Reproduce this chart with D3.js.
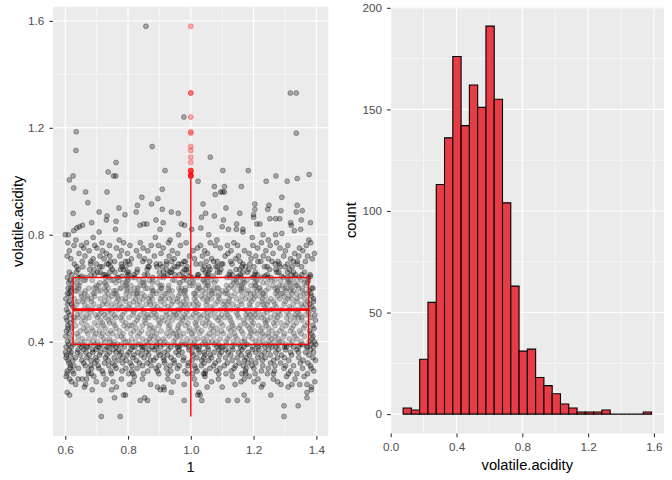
<!DOCTYPE html>
<html lang="en">
<head>
<meta charset="UTF-8">
<title>volatile.acidity</title>
<script src="https://cdn.jsdelivr.net/npm/d3@7"></script>
<style>
	html,body{margin:0;padding:0;background:#fff;}
	svg{display:block;}
	.grid-major{stroke:#fff;stroke-width:1.1;}
	.grid-minor{stroke:#fff;stroke-width:0.55;}
	.axis-title{fill:#000;font-size:14.7px;font-family:"Liberation Sans",Arial,sans-serif;}
</style>
</head>
<body>
<svg id="svg" width="672" height="480"></svg>
<script>
// jittered points: [volatile.acidity, [jittered x positions]]
const jitterRows = [
[0.12,[.715,.775,1.297]],
[0.16,[1.297,1.342]],
[0.18,[.711,.839,.862,.979,1.035,1.119,1.148,1.18]],
[0.19,[.757,.853,1.37]],
[0.2,[.786,1.03,1.17,.792,1.022,.614,1.255]],
[0.21,[.606,.938,1.026,1.37]],
[0.22,[.686,.748,.903,.915,1.384]],
[0.23,[.894,.914,1.1,1.225,1.384,.763,.661,1.052,1.31]],
[0.24,[.665,.722,.979,1.017,1.23,1.287,1.322,1.347,1.37,.805,.872,1.141,.633]],
[0.25,[.817,.699,1.16,.752,.944,1.066,1.201,1.276,.62,1.395]],
[0.26,[.614,.641,.654,.668,1.17,.73,.779,.846,.927,1.011,1.088,1.214,1.263,1.332]],
[0.27,[.603,.691,.82,.958,1.045,1.132,1.186,1.305,1.361]],
[0.28,[.606,.627,.674,.683,.721,.747,.802,.816,.849,.898,.927,.989,1.006,1.041,1.045,1.089,1.112,1.163,1.175,1.205,1.244,1.263,1.311,1.338,1.372]],
[0.29,[.718,1.047,.623,1.266,.894,1.129,.673,.981,1.392,.812,1.174,.745,1.318,.936,.606,1.082,.863,1.225,.781,1.02]],
[0.3,[.957,.642,1.201,.829,1.356,.707,1.093,.615,.889,1.247,.762,1.138,1.015,.684,1.297,.922,1.176,.793,1.061,1.384]],
[0.31,[.627,.873,1.142,.705,1.268,.991,.758,1.327,.846,1.034,.617,1.195,.934,1.381,.681,1.107,.812,1.229,.963,1.073,.739,1.302,.898,1.167,.664,1.012]],
[0.32,[1.254,.783,.612,1.116,.948,1.349,.725,1.042,.861,1.207,.659,.992,1.286,.807,1.154,.694,1.078,.917,1.373,.752,1.181,.836]],
[0.33,[.701,1.035,.882,1.312,.624,1.171,.946,.768,1.228,1.089,.653,1.397,.827,1.004,.737,1.264,.915,1.132,.609,1.358,.794,1.057,.871,1.193,.682,.976]],
[0.34,[1.148,.632,.913,1.276,.756,1.019,.851,1.344,.697,1.111,.978,.603,1.237,.815,1.066,.728,1.389,.937,1.176,.669,1.298,.889,1.041,.783,1.213]],
[0.35,[.617,.842,1.092,1.321,.709,.961,1.187,.774,1.045,.648,1.253,.902,1.376,.733,1.127,.819,1.008,.676,1.289,.926,1.161,.797,1.062,.604,1.224,.866]],
[0.36,[.953,.688,1.119,.831,1.366,.619,1.043,.762,1.271,.897,1.182,.713,1.004,.639,1.318,.858,1.097,.741,1.235,.972,1.152,.803,1.391,.666,1.027,.915,1.207,.779,1.343,.601,1.074]],
[0.37,[.726,1.163,.884,1.302,.641,1.025,.809,1.248,.962,.687,1.381,1.089,.753,1.196,.928,.613,1.134,.846,1.279,.771,1.056,.994,1.338,.698,1.217,.867,1.112,.658]],
[0.38,[.603,.619,.652,.668,.671,.704,.733,.739,.762,.788,.815,.822,.851,.877,.889,.904,.936,.958,.963,.994,1.011,1.027,1.054,1.083,1.097,1.102,1.131,1.158,1.169,1.197,1.214,1.236,1.259,1.271,1.298,1.305,1.327,1.344,1.369,1.372,1.391,.845,1.018,.709]],
[0.39,[.611,.626,.644,.681,.697,.715,.748,.753,.779,.806,.834,.841,.862,.893,.912,.927,.949,.981,.986,1.009,1.036,1.048,1.075,1.089,1.114,1.138,1.152,1.177,1.181,1.209,1.242,1.253,1.278,1.302,1.318,1.349,1.356,1.383,1.398,.767,.968,1.225,.655]],
[0.4,[.607,.638,.661,.689,.702,.727,.756,.791,.799,.824,.858,.871,.902,.917,.945,.972,.999,1.013,1.044,1.067,1.081,1.112,1.135,1.163,1.171,1.206,1.229,1.248,1.283,1.291,1.324,1.352,1.377,1.394,.742,.889,1.056,1.265]],
[0.41,[.618,.654,.676,.723,.741,.785,.812,.847,.896,.913,.952,.988,1.021,1.039,1.094,1.117,1.148,1.196,1.218,1.257,1.279,1.314,1.338,1.386,.868,1.171]],
[0.42,[.602,.641,.693,.714,.766,.779,.831,.874,.883,.931,.967,1.006,1.052,1.071,1.123,1.142,1.187,1.233,1.249,1.296,1.331,1.362,1.389,.957,1.268]],
[0.43,[.613,.637,.672,.698,.736,.751,.784,.809,.836,.864,.891,.923,.944,.977,1.003,1.028,1.059,1.086,1.104,1.139,1.166,1.192,1.211,1.246,1.273,1.299,1.328,1.351,1.384,.719,.953,1.228]],
[0.44,[.604,.648,.667,.709,.745,.773,.818,.843,.879,.905,.938,.962,1.011,1.035,1.072,1.098,1.127,1.161,1.203,1.222,1.259,1.284,1.317,1.346,1.378,.688,.994,1.191]],
[0.45,[.621,.659,.684,.727,.762,.797,.826,.868,.884,.929,.958,.996,1.023,1.064,1.083,1.121,1.154,1.186,1.227,1.248,1.291,1.322,1.359,1.393,.609,1.138]],
[0.46,[.608,.633,.669,.704,.721,.758,.787,.805,.846,.871,.899,.933,.961,.983,1.017,1.046,1.069,1.102,1.133,1.158,1.179,1.216,1.241,1.268,1.303,1.327,1.364,1.389,.812,1.195]],
[0.47,[.616,.652,.694,.718,.754,.793,.821,.857,.902,.926,.968,.991,1.037,1.058,1.096,1.131,1.172,1.199,1.238,1.264,1.307,1.336,1.372,.741,1.014,1.287]],
[0.48,[.627,.663,.712,.738,.781,.829,.853,.897,.941,.973,1.019,1.051,1.087,1.126,1.168,1.193,1.236,1.271,1.318,1.354,1.397,.606,.915,1.244]],
[0.49,[.603,.628,.657,.676,.703,.729,.761,.777,.803,.832,.855,.887,.908,.931,.957,.985,1.002,1.031,1.053,1.079,1.108,1.124,1.153,1.181,1.197,1.226,1.254,1.276,1.305,1.331,1.353,1.381,.641,.746,.866,.974,1.091,1.213,1.342]],
[0.5,[.615,.639,.668,.697,.724,.758,.782,.816,.839,.873,.891,.924,.952,.979,1.008,1.042,1.063,1.097,1.118,1.149,1.176,1.204,1.232,1.267,1.284,1.313,1.347,1.366,1.395,.707,.861,1.026,1.188,1.332,.944]],
[0.51,[.609,.648,.681,.716,.749,.788,.818,.852,.883,.921,.946,.987,1.016,1.054,1.077,1.113,1.145,1.182,1.216,1.243,1.279,1.306,1.341,1.376,.735,.962,1.198]],
[0.52,[.604,.632,.659,.687,.711,.743,.769,.796,.824,.847,.876,.905,.933,.958,.991,1.013,1.047,1.069,1.094,1.128,1.151,1.173,1.207,1.238,1.261,1.289,1.316,1.343,1.371,1.392,.672,.811,.968,1.112,1.253,.887,1.331]],
[0.53,[.624,.673,.708,.759,.801,.842,.894,.927,.976,1.022,1.063,1.109,1.147,1.189,1.235,1.272,1.314,1.357,1.386,.781]],
[0.54,[.607,.636,.662,.691,.719,.748,.774,.806,.829,.858,.884,.916,.939,.967,.995,1.024,1.049,1.078,1.103,1.134,1.162,1.187,1.214,1.243,1.268,1.297,1.326,1.352,1.379,.621,.733,.871,.982,1.118,1.231,1.365,1.008]],
[0.55,[.613,.656,.683,.726,.764,.793,.837,.869,.904,.943,.976,1.017,1.052,1.086,1.121,1.158,1.193,1.227,1.264,1.301,1.338,1.372,.641,.817,.958,1.107,1.246,1.391]],
[0.56,[.602,.629,.657,.684,.712,.739,.768,.792,.823,.848,.877,.903,.931,.957,.986,1.011,1.039,1.067,1.091,1.122,1.146,1.174,1.201,1.229,1.255,1.283,1.309,1.338,1.363,1.391,.671,.781,.918,1.053,1.188,1.322,.866]],
[0.57,[.618,.652,.694,.727,.766,.804,.831,.872,.908,.941,.983,1.016,1.058,1.088,1.129,1.163,1.204,1.237,1.276,1.312,1.349,1.384,.671,.853,1.034,1.219,.749,.961,1.297]],
[0.58,[.607,.612,.65,.662,.689,.692,.736,.755,.763,.794,.816,.827,.829,.845,.88,.891,.917,.924,.966,.98,1.009,1.013,1.046,1.067,1.076,1.093,1.111,1.117,1.141,1.178,1.191,1.201,1.229,1.231,1.27,1.287,1.293,1.323,1.338,1.361,1.37,1.382]],
[0.59,[.618,.632,.635,.664,.705,.713,.73,.755,.761,.797,.808,.83,.877,.881,.9,.931,.94,.967,.98,.982,1.02,1.036,1.06,1.067,1.1,1.112,1.157,1.162,1.183,1.211,1.221,1.239,1.274,1.277,1.303,1.318,1.326,1.356,1.376]],
[0.6,[.609,.618,.64,.644,.675,.691,.698,.725,.737,.775,.778,.796,.821,.831,.855,.861,.876,.905,.907,.928,.962,.97,.983,1.023,1.028,1.047,1.073,1.084,1.087,1.12,1.137,1.161,1.168,1.204,1.218,1.22,1.248,1.268,1.277,1.298,1.304,1.32,1.343,1.355,1.385,1.389]],
[0.61,[.625,.643,.699,.706,.731,.792,.795,.809,.838,.849,.902,.908,.93,.997,1.006,1.025,1.052,1.056,1.114,1.129,1.153,1.161,1.192,1.205,1.207,1.262,1.282,1.292,1.318,1.335,1.34,1.368]],
[0.62,[.611,.638,.647,.71,.725,.729,.761,.782,.794,.847,.853,.877,.894,.963,.966,.995,1.009,1.045,1.053,1.075,1.136,1.147,1.166,1.171,1.204,1.23,1.243,1.307,1.314,1.332,1.362,1.372]],
[0.63,[.616,.628,.659,.664,.686,.746,.754,.771,.797,.8,.835,.849,.869,.878,.942,.948,.976,.987,1.006,1.039,1.041,1.065,1.08,1.138,1.145,1.166,1.179,1.208,1.212,1.258,1.268,1.286,1.311,1.317,1.349,1.365,1.374]],
[0.64,[.607,.64,.647,.666,.728,.739,.765,.769,.799,.814,.822,.879,.9,.913,.978,.98,1.004,1.021,1.05,1.056,1.115,1.125,1.147,1.161,1.195,1.2,1.227,1.245,1.254,1.295,1.307,1.33,1.346,1.374]],
[0.645,[.652,.733,.781,.914,.997,1.071,1.152,1.236,1.289,1.381]],
[0.65,[.621,.682,.694,.721,.727,.8,.819,.853,.862,.927,.949,.964,1.022,1.025,1.054,1.122,1.133,1.158,1.204,1.212,1.243,1.32,1.334,1.354,1.38]],
[0.66,[.613,.636,.703,.711,.742,.758,.797,.802,.828,.9,.913,.934,.938,.974,.992,1.046,1.056,1.085,1.092,1.125,1.166,1.181,1.205,1.274,1.28,1.308,1.327,1.362]],
[0.67,[.641,.678,.692,.75,.776,.785,.83,.861,.923,.94,.98,.986,1.039,1.061,1.096,1.144,1.156,1.185,1.251,1.271,1.314]],
[0.68,[.637,.656,.71,.717,.745,.781,.793,.864,.867,.892,.909,.948,.957,.988,1.044,1.058,1.08,1.085,1.163,1.174,1.201,1.235,1.243,1.284,1.3,1.323,1.353]],
[0.69,[.629,.681,.699,.732,.738,.779,.806,.89,.902,.923,.961,.97,1.017,1.032,1.098,1.102,1.131,1.166,1.188,1.269,1.282,1.308,1.339]],
[0.7,[.654,.682,.743,.757,.792,.8,.847,.869,.922,.939,.978,.983,1.049,1.073,1.084,1.127,1.157,1.214,1.223,1.259,1.278,1.326,1.339,1.365]],
[0.71,[.618,.689,.724,.811,.853,.947,1.012,1.066,1.143,1.192,1.247,1.318,1.387]],
[0.72,[.606,.663,.742,.774,.836,.884,.931,.996,1.037,1.109,1.152,1.207,1.231,1.296,1.344,1.372,.711]],
[0.73,[.644,.731,.798,.905,.958,1.053,1.118,1.186,1.262,1.331,1.394]],
[0.74,[.613,.676,.719,.827,.863,.941,1.007,1.044,1.128,1.171,1.239,1.301,1.357,.779]],
[0.75,[.659,.763,.848,.912,1.021,1.094,1.213,1.284,1.346,.701]],
[0.76,[.628,.694,.741,.806,.874,.897,.967,1.031,1.078,1.149,1.198,1.253,1.309,1.368,.652,1.117]],
[0.77,[.608,.717,.786,.839,.929,.985,1.062,1.137,1.225,1.273,1.382,.668]],
[0.78,[.634,.772,.934,1.083,1.247,1.376]],
[0.79,[.689,.887,1.196]],
[0.8,[.6,.61,1.27,1.23,.961,1.057]],
[0.805,[1.29]],
[0.81,[.708,1.166]],
[0.815,[.627,1.33]],
[0.82,[.76,.902,1.003,1.12,1.145,1.166,1.35]],
[0.825,[.637,1.032]],
[0.83,[.645,1.1]],
[0.835,[.655,.838,.98,1.32]],
[0.84,[.85,.86,.97,1.146,1.21,1.22]],
[0.845,[.684,.912,1.318,1.381]],
[0.85,[.762]],
[0.855,[.731,.889,1.104,1.352]],
[0.86,[1.252,1.283,1.27]],
[0.865,[1.2,1.034]],
[0.87,[.733,1.075]],
[0.875,[.79,1.2]],
[0.88,[1.156,1.047,.96,.625]],
[0.885,[.708,.826,.938,1.336]],
[0.89,[1.287,1.355]],
[0.895,[.909,1.204,1.245]],
[0.9,[.771,1.112]],
[0.91,[.83,1.249,1.339]],
[0.915,[.875,1.039,1.204]],
[0.92,[.672]],
[0.935,[.895]],
[0.94,[.844,1.29]],
[0.95,[1.078]],
[0.96,[.665,.733,1.095,1.101,1.107]],
[0.97,[.909]],
[0.975,[.627]],
[0.98,[1.075,1.107,1.161]],
[1.0,[1.307,1.24,1.023]],
[1.005,[.613]],
[1.01,[1.339]],
[1.02,[.625,.754,.761,1.271]],
[1.025,[1.377]],
[1.035,[.737]],
[1.04,[.918,1.102,1.183]],
[1.07,[.762]],
[1.09,[1.062]],
[1.115,[.634]],
[1.13,[.877]],
[1.18,[1.336]],
[1.185,[.635]],
[1.24,[.978]],
[1.33,[1.317,1.336]],
[1.58,[.857]]
];

// boxplot: lower whisker, Q1, median, Q3, upper whisker
const boxStats = [0.12, 0.39, 0.52, 0.64, 1.01];
const boxCenter = 1, boxWidth = 0.75;

// histogram (30 bins)
const binStart = 0.0755, binWidth = 0.05034;
const binCounts = [3,2,27,55,113,136,176,142,162,151,191,155,104,63,31,32,18,14,10,5,3,1,1,1,2,0,0,0,0,1];

const leftXTicks = [0.6,0.8,1.0,1.2,1.4];
const leftYTicks = [0.4,0.8,1.2,1.6];
const histXTicks = [0.0,0.4,0.8,1.2,1.6];
const histYTicks = [0,50,100,150,200];

const FONT = '"Liberation Sans",Arial,sans-serif';
const svg = d3.select("#svg");

function minorOf(ticks, dom){
	var step = ticks[1]-ticks[0];
	return d3.range(ticks.length+1).map(i=>ticks[0]+(i-0.5)*step)
		.filter(v=>v>=dom[0] && v<=dom[1]);
}

function drawPanel(x, y, xt, yt, fx, fy){
	var g = svg.append("g");
	var [x0,x1] = x.range(), [y1,y0] = y.range();
	g.append("rect").attr("x",x0).attr("y",y0)
		.attr("width",x1-x0).attr("height",y1-y0).attr("fill","#ebebeb");
	g.selectAll(".vmin").data(minorOf(xt,x.domain())).enter().append("line")
		.attr("class","grid-minor").attr("x1",x).attr("x2",x).attr("y1",y0).attr("y2",y1);
	g.selectAll(".hmin").data(minorOf(yt,y.domain())).enter().append("line")
		.attr("class","grid-minor").attr("y1",y).attr("y2",y).attr("x1",x0).attr("x2",x1);
	g.selectAll(".vmaj").data(xt).enter().append("line")
		.attr("class","grid-major").attr("x1",x).attr("x2",x).attr("y1",y0).attr("y2",y1);
	g.selectAll(".hmaj").data(yt).enter().append("line")
		.attr("class","grid-major").attr("y1",y).attr("y2",y).attr("x1",x0).attr("x2",x1);

	var ax = svg.append("g").attr("transform","translate(0,"+y1+")")
		.call(d3.axisBottom(x).tickValues(xt).tickFormat(fx).tickSize(3.67).tickPadding(6));
	var ay = svg.append("g").attr("transform","translate("+x0+",0)")
		.call(d3.axisLeft(y).tickValues(yt).tickFormat(fy).tickSize(3.67).tickPadding(5));
	[ax,ay].forEach(a=>{
		a.select(".domain").remove();
		a.selectAll("line").attr("stroke","#333").attr("stroke-width",1.07);
		a.selectAll("text").attr("fill","#4d4d4d").style("font-size","11.7px").style("font-family",FONT);
	});
	return g;
}

// left: jitter + boxplot
var xJ = d3.scaleLinear().domain([0.561,1.438]).range([53,328.3]);
var yJ = d3.scaleLinear().domain([0.047,1.653]).range([436,6.7]);
var left = drawPanel(xJ, yJ, leftXTicks, leftYTicks, d3.format(".1f"), d3.format(".1f"));

var pts = jitterRows.flatMap(([v,xs])=>xs.map(j=>({j:j,v:v})));
left.append("g").selectAll("circle").data(pts).enter().append("circle")
	.attr("cx",d=>xJ(d.j)).attr("cy",d=>yJ(d.v)).attr("r",2.5)
	.attr("fill","#000").attr("fill-opacity",0.3)
	.attr("stroke","#000").attr("stroke-opacity",0.3).attr("stroke-width",0.9);

var [wLo,q1,med,q3,wHi] = boxStats;
var outliers = pts.filter(d=>d.v>q3+1.5*(q3-q1) || d.v<q1-1.5*(q3-q1));
left.append("g").selectAll("circle").data(outliers).enter().append("circle")
	.attr("cx",xJ(boxCenter)).attr("cy",d=>yJ(d.v)).attr("r",2.5)
	.attr("fill","red").attr("fill-opacity",0.3)
	.attr("stroke","red").attr("stroke-opacity",0.3).attr("stroke-width",0.9);

left.selectAll(".whisker").data([[q3,wHi],[q1,wLo]]).enter().append("line")
	.attr("x1",xJ(boxCenter)).attr("x2",xJ(boxCenter))
	.attr("y1",d=>yJ(d[0])).attr("y2",d=>yJ(d[1]))
	.attr("stroke","red").attr("stroke-width",1.4);
left.append("rect")
	.attr("x",xJ(boxCenter-boxWidth/2)).attr("y",yJ(q3))
	.attr("width",xJ(boxCenter+boxWidth/2)-xJ(boxCenter-boxWidth/2))
	.attr("height",yJ(q1)-yJ(q3))
	.attr("fill","#fff").attr("fill-opacity",0.3)
	.attr("stroke","red").attr("stroke-width",1.4);
left.append("line")
	.attr("x1",xJ(boxCenter-boxWidth/2)).attr("x2",xJ(boxCenter+boxWidth/2))
	.attr("y1",yJ(med)).attr("y2",yJ(med))
	.attr("stroke","red").attr("stroke-width",2.8);

// right: histogram
var xH = d3.scaleLinear().domain([0,1.6612]).range([390.7,664]);
var yH = d3.scaleLinear().domain([-9.55,200.55]).range([433.5,6.7]);
var right = drawPanel(xH, yH, histXTicks, histYTicks, d3.format(".1f"), d3.format("d"));

var bins = binCounts.map((c,i)=>({x0:binStart+i*binWidth, x1:binStart+(i+1)*binWidth, n:c}));
right.append("g").selectAll("path").data(bins).enter().append("path")
	.attr("d",d=>{
		var p = d3.path();
		p.rect(xH(d.x0), yH(d.n), xH(d.x1)-xH(d.x0), yH(0)-yH(d.n));
		return p.toString();
	})
	.attr("fill","#e83b45").attr("stroke","#000").attr("stroke-width",1.1);

// axis titles
svg.append("text").attr("class","axis-title").attr("text-anchor","middle")
	.attr("transform","translate(22.5,221.4) rotate(-90)").text("volatile.acidity");
svg.append("text").attr("class","axis-title").attr("text-anchor","middle")
	.attr("x",190.6).attr("y",472.3).text("1");
svg.append("text").attr("class","axis-title").attr("text-anchor","middle")
	.attr("transform","translate(356,220.1) rotate(-90)").text("count");
svg.append("text").attr("class","axis-title").attr("text-anchor","middle")
	.attr("x",527.3).attr("y",470).text("volatile.acidity");
</script>
</body>
</html>
